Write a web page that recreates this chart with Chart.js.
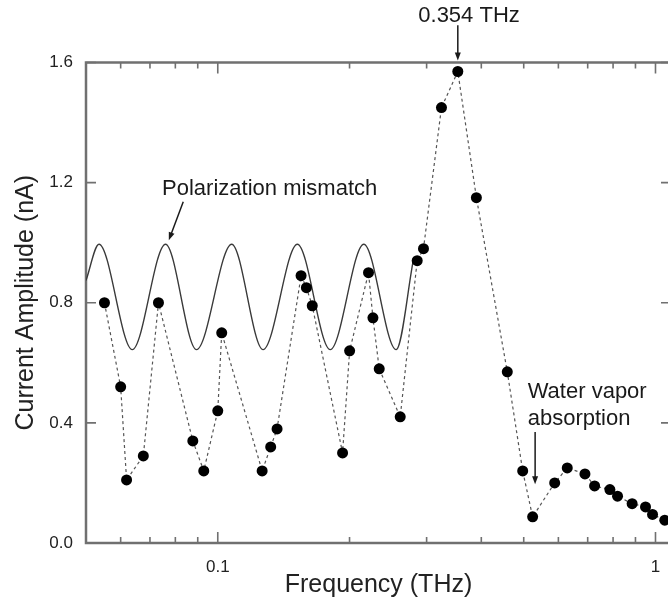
<!DOCTYPE html>
<html>
<head>
<meta charset="utf-8">
<script src="https://cdn.jsdelivr.net/npm/chart.js@4"></script>
<style>
  html, body { margin: 0; padding: 0; background: #fff; overflow: hidden; }
  #wrap { width: 680px; height: 603px; }
</style>
</head>
<body>
<div id="wrap"><canvas id="c" width="680" height="603"></canvas></div>
<script>
// ---- data ----
const freqTHz = [0.0551, 0.0600, 0.0619, 0.0676, 0.0732, 0.0877, 0.0929, 0.1000, 0.1021,
  0.1263, 0.1321, 0.1366, 0.1550, 0.1594, 0.1644, 0.1928, 0.2001, 0.2210, 0.2262, 0.2338,
  0.2611, 0.2855, 0.2951, 0.3244, 0.3535, 0.3898, 0.4586, 0.4973, 0.5240, 0.5884, 0.6287,
  0.6900, 0.7259, 0.7867, 0.8190, 0.8843, 0.9489, 0.9845, 1.050];
const currentNA = [0.80, 0.52, 0.21, 0.29, 0.80, 0.34, 0.24, 0.44, 0.70,
  0.24, 0.32, 0.38, 0.89, 0.85, 0.79, 0.30, 0.64, 0.90, 0.75, 0.58,
  0.42, 0.94, 0.98, 1.45, 1.57, 1.15, 0.57, 0.24, 0.087, 0.20, 0.25,
  0.23, 0.19, 0.178, 0.156, 0.131, 0.12, 0.095, 0.076];

// polarization-mismatch curve: extrema
const polFreq = [0.0500, 0.05354, 0.06378, 0.07598, 0.08941, 0.1076, 0.1269, 0.1520, 0.1807, 0.2156, 0.2556, 0.2796];
const polAmp  = [0.874, 0.995, 0.644, 0.995, 0.644, 0.995, 0.644, 0.995, 0.644, 0.995, 0.644, 0.94];

const xMajorTicks = [0.1, 1];
const xMinorTicks = [0.06, 0.07, 0.08, 0.09, 0.2, 0.3, 0.4, 0.5, 0.6, 0.7, 0.8, 0.9];
const yTicks = [0, 0.4, 0.8, 1.2, 1.6];

const annotations = [
  { text: ['0.354 THz'], x: 0.375, y: 1.734, align: 'center', arrow: [0.3535, 1.724, 0.3535, 1.607] },
  { text: ['Polarization mismatch'], x: 0.0746, y: 1.158, align: 'left', arrow: [0.0834, 1.136, 0.0773, 1.008] },
  { text: ['Water vapor', 'absorption'], x: 0.5105, y: 0.482, align: 'left', arrow: [0.5309, 0.370, 0.5309, 0.196] }
];

const FONT = "'Liberation Sans', Arial, sans-serif";
const AXIS_COLOR = '#707070';

const framePlugin = {
  id: 'frame',
  beforeDatasetsDraw(chart) {
    const { ctx, chartArea: a, scales: { x, y } } = chart;
    ctx.save();
    ctx.strokeStyle = AXIS_COLOR;
    ctx.lineWidth = 1.6;
    const drawX = (v, len) => {
      const px = x.getPixelForValue(v);
      ctx.beginPath();
      ctx.moveTo(px, a.bottom); ctx.lineTo(px, a.bottom - len);
      ctx.moveTo(px, a.top); ctx.lineTo(px, a.top + len);
      ctx.stroke();
    };
    xMinorTicks.forEach(v => drawX(v, 6));
    xMajorTicks.forEach(v => drawX(v, 11));
    yTicks.forEach(v => {
      const py = y.getPixelForValue(v);
      ctx.beginPath();
      ctx.moveTo(a.left, py); ctx.lineTo(a.left + 10, py);
      ctx.moveTo(a.right, py); ctx.lineTo(a.right - 10, py);
      ctx.stroke();
    });
    ctx.lineWidth = 2.5;
    ctx.strokeRect(a.left, a.top, a.right - a.left, a.bottom - a.top);
    ctx.restore();
  },
  afterDatasetsDraw(chart) {
    const { ctx, scales: { x, y } } = chart;
    ctx.save();
    ctx.fillStyle = '#1a1a1a';
    ctx.strokeStyle = '#1a1a1a';
    ctx.font = '22px ' + FONT;
    ctx.textBaseline = 'alphabetic';
    annotations.forEach(an => {
      ctx.textAlign = an.align;
      const tx = x.getPixelForValue(an.x), ty = y.getPixelForValue(an.y);
      an.text.forEach((t, i) => ctx.fillText(t, tx, ty + i * 27));
      const [x0, y0, x1, y1] = an.arrow;
      const p0 = [x.getPixelForValue(x0), y.getPixelForValue(y0)];
      const p1 = [x.getPixelForValue(x1), y.getPixelForValue(y1)];
      const ang = Math.atan2(p1[1] - p0[1], p1[0] - p0[0]);
      const hl = 8, hw = 3;
      ctx.lineWidth = 1.5;
      ctx.beginPath();
      ctx.moveTo(p0[0], p0[1]);
      ctx.lineTo(p1[0] - Math.cos(ang) * hl * 0.6, p1[1] - Math.sin(ang) * hl * 0.6);
      ctx.stroke();
      ctx.beginPath();
      ctx.moveTo(p1[0], p1[1]);
      ctx.lineTo(p1[0] - Math.cos(ang) * hl - Math.sin(ang) * hw, p1[1] - Math.sin(ang) * hl + Math.cos(ang) * hw);
      ctx.lineTo(p1[0] - Math.cos(ang) * hl + Math.sin(ang) * hw, p1[1] - Math.sin(ang) * hl - Math.cos(ang) * hw);
      ctx.closePath();
      ctx.fill();
    });
    ctx.restore();
  }
};

new Chart(document.getElementById('c'), {
  type: 'scatter',
  data: {
    datasets: [
      {
        label: 'Polarization mismatch',
        data: polFreq.map((f, i) => ({ x: f, y: polAmp[i] })),
        showLine: true,
        cubicInterpolationMode: 'monotone',
        borderColor: '#3a3a3a',
        borderWidth: 1.4,
        pointRadius: 0,
        order: 2
      },
      {
        label: 'Current amplitude',
        data: freqTHz.map((f, i) => ({ x: f, y: currentNA[i] })),
        showLine: true,
        borderColor: '#555',
        borderWidth: 1.2,
        borderDash: [3, 3],
        pointRadius: 5.5,
        pointBackgroundColor: '#000',
        pointBorderColor: '#000',
        pointBorderWidth: 0,
        clip: false,
        order: 1
      }
    ]
  },
  options: {
    responsive: false,
    animation: false,
    events: [],
    layout: { padding: { top: 62.5, right: 9, left: 0, bottom: 0 } },
    plugins: { legend: { display: false }, tooltip: { enabled: false } },
    scales: {
      x: {
        type: 'logarithmic',
        min: 0.05,
        max: 1.085,
        afterBuildTicks: s => { s.ticks = xMajorTicks.map(v => ({ value: v })); },
        afterFit: s => { s.height = 60; },
        grid: { display: false, drawTicks: false },
        border: { display: false },
        ticks: {
          autoSkip: false, maxRotation: 0, padding: 14,
          color: '#222', font: { family: FONT, size: 17 },
          callback: v => (Math.abs(v - 0.1) < 1e-9 ? '0.1' : Math.abs(v - 1) < 1e-9 ? '1' : '')
        },
        title: { display: true, text: 'Frequency (THz)', color: '#222',
          font: { family: FONT, size: 25 }, padding: { top: 0, bottom: 3 } }
      },
      y: {
        min: 0,
        max: 1.6,
        afterBuildTicks: s => { s.ticks = yTicks.map(v => ({ value: v })); },
        afterFit: s => { s.width = 86; },
        grid: { display: false, drawTicks: false },
        border: { display: false },
        ticks: { padding: 13, color: '#222', font: { family: FONT, size: 17 },
          callback: v => Number(v).toFixed(1) },
        title: { display: true, text: 'Current Amplitude (nA)', color: '#222',
          font: { family: FONT, size: 25 }, padding: { top: 11, bottom: 0 } }
      }
    }
  },
  plugins: [framePlugin]
});
</script>
</body>
</html>
